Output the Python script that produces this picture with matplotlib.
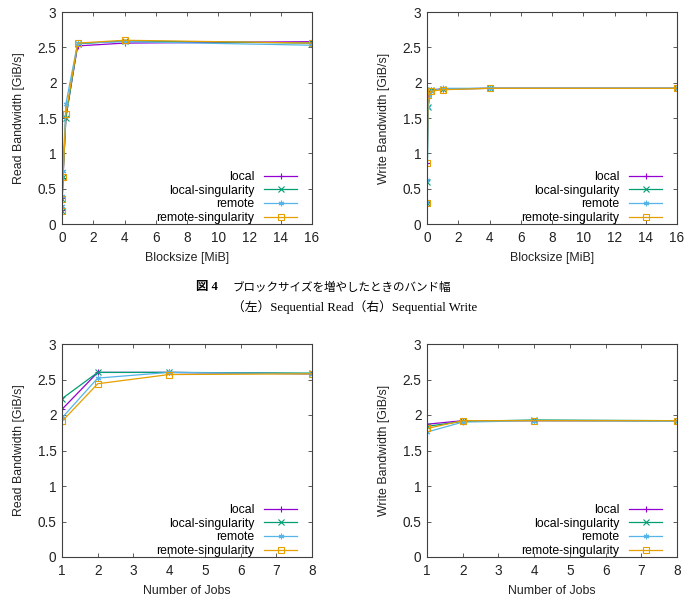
import matplotlib.pyplot as plt
from matplotlib import font_manager as fm
import numpy as np

series = ["local", "local-singularity", "remote", "remote-singularity"]
colors = ["#9400d3", "#009e73", "#56b4e9", "#e69f00"]

# block sizes in MiB (4KiB .. 16MiB)
blocksize = [0.00390625, 0.015625, 0.0625, 0.25, 1, 4, 16]
read_bs = [
    [0.20, 0.37, 0.65, 1.52, 2.52, 2.56, 2.58],
    [0.19, 0.35, 0.66, 1.50, 2.55, 2.59, 2.56],
    [0.25, 0.40, 0.75, 1.70, 2.56, 2.58, 2.53],
    [0.18, 0.36, 0.66, 1.56, 2.56, 2.60, 2.56],
]
write_bs = [
    [0.31, 0.87, 1.85, 1.90, 1.91, 1.92, 1.92],
    [0.30, 0.60, 1.65, 1.89, 1.91, 1.92, 1.92],
    [0.31, 0.62, 1.65, 1.88, 1.92, 1.92, 1.92],
    [0.30, 0.87, 1.82, 1.88, 1.90, 1.92, 1.92],
]

jobs = [1, 2, 4, 8]
read_jobs = [
    [2.08, 2.60, 2.60, 2.58],
    [2.23, 2.60, 2.60, 2.59],
    [1.96, 2.52, 2.60, 2.58],
    [1.91, 2.44, 2.57, 2.58],
]
write_jobs = [
    [1.87, 1.92, 1.92, 1.92],
    [1.84, 1.91, 1.93, 1.92],
    [1.76, 1.90, 1.92, 1.91],
    [1.81, 1.92, 1.92, 1.92],
]

markers = ['+', 'x', (6, 2, 0), 's']

# regular (not narrow) Liberation Sans, picked by file
sans_path = None
for p in fm.findSystemFonts():
    if p.endswith('LiberationSans-Regular.ttf'):
        sans_path = p
        break


def sans(size):
    if sans_path:
        return fm.FontProperties(fname=sans_path, size=size)
    return fm.FontProperties(family='DejaVu Sans', size=size - 0.5)


W, H = 693, 609
fig = plt.figure(figsize=(W / 100, H / 100), dpi=100)


def make_axes(x0, y_top, x1, y_bot):
    return fig.add_axes([x0 / W, (H - y_bot) / H, (x1 - x0) / W, (y_bot - y_top) / H])


def draw(ax, x, data, xlabel, ylabel, xticks):
    for name, c, m, ys in zip(series, colors, markers, data):
        mfc = 'none' if m == 's' else c
        ax.plot(x, ys, color=c, lw=0.9, marker=m, ms=4, mfc=mfc, mew=0.8, label=name)
    ax.set_ylim(0, 3)
    ax.set_yticks([0, 0.5, 1, 1.5, 2, 2.5, 3])
    ax.set_yticklabels(['0', '0.5', '1', '1.5', '2', '2.5', '3'])
    ax.set_xlim(xticks[0], xticks[-1])
    ax.set_xticks(xticks)
    ax.tick_params(direction='in', top=True, right=True, length=3, width=0.6,
                   colors='#404040', labelcolor='#222222')
    ax.tick_params(axis='y', pad=4)
    ax.tick_params(axis='x', pad=5)
    for lbl in ax.get_xticklabels() + ax.get_yticklabels():
        lbl.set_fontproperties(sans(9.8))
    for s in ax.spines.values():
        s.set_color('#404040')
        s.set_linewidth(0.8)
    ax.set_xlabel(xlabel, fontproperties=sans(8.9), color='#222222', labelpad=5)
    ax.set_ylabel(ylabel, fontproperties=sans(8.9), color='#222222', labelpad=9)
    ax.legend(loc='lower right', bbox_to_anchor=(0.94, 0.0), markerfirst=False,
              frameon=False, prop=sans(8.8), handlelength=2.7, labelspacing=0.14,
              handletextpad=0.8, borderaxespad=0.0, borderpad=0.0)


ax1 = make_axes(62, 12, 312, 224)
draw(ax1, blocksize, read_bs, 'Blocksize [MiB]', 'Read Bandwidth [GiB/s]',
     [0, 2, 4, 6, 8, 10, 12, 14, 16])
ax2 = make_axes(427, 12, 677, 224)
draw(ax2, blocksize, write_bs, 'Blocksize [MiB]', 'Write Bandwidth [GiB/s]',
     [0, 2, 4, 6, 8, 10, 12, 14, 16])
ax3 = make_axes(62, 344, 312, 557)
draw(ax3, jobs, read_jobs, 'Number of Jobs', 'Read Bandwidth [GiB/s]',
     [1, 2, 3, 4, 5, 6, 7, 8])
ax4 = make_axes(427, 344, 677, 557)
draw(ax4, jobs, write_jobs, 'Number of Jobs', 'Write Bandwidth [GiB/s]',
     [1, 2, 3, 4, 5, 6, 7, 8])

fig.text(196 / W, 1 - 287 / H, '図 4', fontsize=9, fontweight='bold',
         family=['Liberation Serif', 'Noto Sans CJK JP'], va='center', ha='left')
fig.text(232 / W, 1 - 287 / H, 'ブロックサイズを増やしたときのバンド幅', fontsize=8.3,
         family=['Noto Sans CJK JP'], va='center', ha='left')
fig.text(232 / W, 1 - 307 / H, '（左）Sequential Read（右）Sequential Write', fontsize=9.2,
         family=['Liberation Serif', 'Noto Sans CJK JP'], va='center', ha='left')

fig.savefig('out.png', dpi=100)
